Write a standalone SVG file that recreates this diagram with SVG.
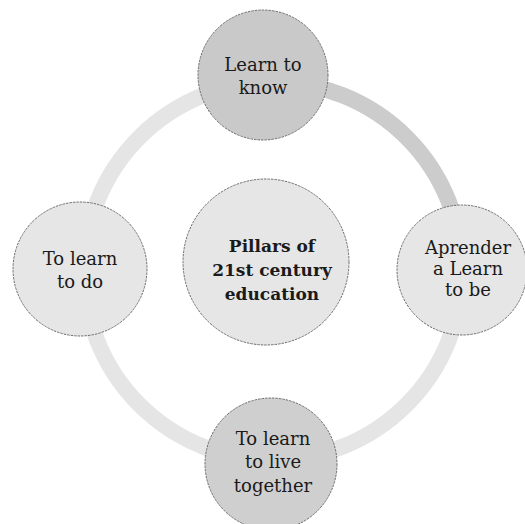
<svg xmlns="http://www.w3.org/2000/svg" width="525" height="524" viewBox="0 0 525 524">
<style>
.node{stroke:#6e6e6e;stroke-width:1;stroke-dasharray:2.5 1}
.t{font-family:"DejaVu Serif","Liberation Serif",serif;font-size:18px;fill:#1a1a1a;text-anchor:middle}
.b{font-weight:bold;font-size:17px}
.ring{fill:none;stroke-width:16}
</style>
<rect width="525" height="524" fill="#ffffff"/>
<g id="connectors">
<circle class="ring" cx="273" cy="271" r="189" stroke="#e5e5e5"/>
<path class="ring" d="M 273 82 A 189 189 0 0 1 462 271" stroke="#cccccc"/>
</g>
<g id="center">
<circle class="node" cx="266" cy="262" r="83" fill="#e6e6e6"/>
<text class="t b" x="272" y="252">Pillars of</text>
<text class="t b" x="272" y="276">21st century</text>
<text class="t b" x="272" y="300">education</text>
</g>
<g id="top">
<circle class="node" cx="263" cy="75" r="65" fill="#c9c9c9"/>
<text class="t" x="263" y="71">Learn to</text>
<text class="t" x="263" y="94">know</text>
</g>
<g id="right">
<circle class="node" cx="462" cy="270" r="65" fill="#e6e6e6"/>
<text class="t" x="468" y="254">Aprender</text>
<text class="t" x="468" y="275">a Learn</text>
<text class="t" x="468" y="296">to be</text>
</g>
<g id="left">
<circle class="node" cx="80" cy="269" r="67" fill="#e6e6e6"/>
<text class="t" x="80" y="265">To learn</text>
<text class="t" x="80" y="288">to do</text>
</g>
<g id="bottom">
<circle class="node" cx="271" cy="464" r="66" fill="#cfcfcf"/>
<text class="t" x="273" y="445">To learn</text>
<text class="t" x="273" y="468">to live</text>
<text class="t" x="273" y="492">together</text>
</g>
</svg>
